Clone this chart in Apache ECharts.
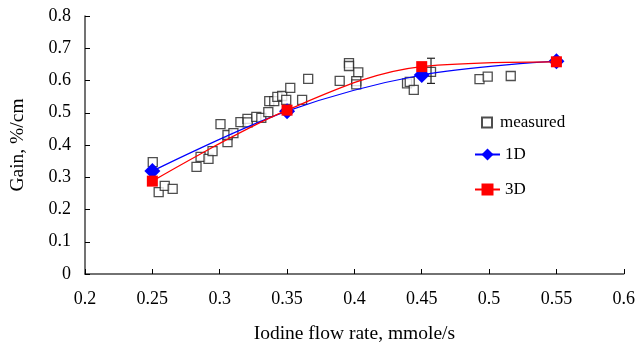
<!DOCTYPE html>
<html>
<head>
<meta charset="utf-8">
<script src="https://cdn.jsdelivr.net/npm/echarts@6/dist/echarts.min.js"></script>
<style>html,body{margin:0;padding:0;background:#fff;}#c{width:638px;height:349px;}</style>
</head>
<body>
<div id="c"></div>
<script>
var measuredX = [0.2503,0.2547,0.2592,0.2651,0.2828,0.2858,0.2917,0.2947,0.3006,0.3058,0.3058,0.3102,0.3154,0.3206,0.3208,0.3272,0.3309,0.3361,0.3368,0.3405,0.3428,0.3464,0.3494,0.3524,0.3612,0.3657,0.3891,0.3960,0.3960,0.4029,0.4014,0.4014,0.4391,0.4411,0.4441,0.4569,0.4929,0.4990,0.5161];
var measuredY = [0.347,0.254,0.273,0.264,0.332,0.363,0.357,0.381,0.465,0.409,0.431,0.437,0.471,0.481,0.470,0.487,0.484,0.502,0.536,0.536,0.549,0.552,0.540,0.577,0.540,0.605,0.599,0.654,0.645,0.625,0.598,0.588,0.591,0.596,0.571,0.627,0.604,0.612,0.614];
var modelX = [0.25,0.35,0.45,0.55];
var oneD = [0.319,0.505,0.617,0.660];
var threeD = [0.288,0.508,0.643,0.658];
var errX = [0.4569];
var errLow = [0.591];
var errHigh = [0.669];
var xTicks = [0.2,0.25,0.3,0.35,0.4,0.45,0.5,0.55,0.6];

var font = 'Liberation Serif';
function pairs(xs, ys){ return xs.map(function(x,i){ return [x, ys[i]]; }); }

var chart = echarts.init(document.getElementById('c'), null, {renderer:'canvas'});
chart.setOption({
  animation:false,
  backgroundColor:'#fff',
  textStyle:{fontFamily:font},
  grid:{left:85,right:12,top:16,bottom:75,containLabel:false},
  xAxis:{
    type:'value',min:0.2,max:0.6,interval:0.05,
    name:'Iodine flow rate, mmole/s',nameLocation:'middle',nameGap:50,
    nameTextStyle:{fontFamily:font,fontSize:19.5,color:'#000'},
    axisLine:{lineStyle:{color:'#444',width:1.5}},
    axisTick:{inside:true,length:5,lineStyle:{color:'#000'}},
    axisLabel:{fontFamily:font,fontSize:18,color:'#000',margin:16,
      formatter:function(v){ var t = xTicks.find(function(k){return Math.abs(k-v)<1e-9;}); return t===undefined? '' : String(t); }},
    splitLine:{show:false}
  },
  yAxis:{
    type:'value',min:0,max:0.8,interval:0.1,
    name:'Gain, %/cm',nameLocation:'middle',nameGap:57,nameRotate:90,
    nameTextStyle:{fontFamily:font,fontSize:19.5,color:'#000'},
    axisLine:{show:true,lineStyle:{color:'#444',width:1.5}},
    axisTick:{show:true,inside:true,length:5,lineStyle:{color:'#000'}},
    axisLabel:{fontFamily:font,fontSize:18,color:'#000',margin:14,
      formatter:function(v){ return String(Math.round(v*10)/10); }},
    splitLine:{show:false}
  },
  legend:[
    {orient:'vertical',left:476,top:109,itemWidth:10,itemHeight:10,
      textStyle:{fontFamily:font,fontSize:17,color:'#000',padding:[0,0,0,3]},
      data:['measured']},
    {orient:'vertical',left:469,top:141,itemWidth:25,itemHeight:15,itemGap:18,
      textStyle:{fontFamily:font,fontSize:17,color:'#000'},
      data:['1D','3D']}
  ],
  series:[
    {name:'measured',type:'scatter',symbol:'rect',symbolSize:9,
      itemStyle:{color:'#fff',borderColor:'#222',borderWidth:1.3},
      data:pairs(measuredX,measuredY),z:3},
    {name:'err',type:'custom',z:4,
      renderItem:function(params, api){
        var p1 = api.coord([api.value(0), api.value(1)]);
        var p2 = api.coord([api.value(0), api.value(2)]);
        var w = 4;
        var st = {stroke:'#222',lineWidth:1.2};
        return {type:'group',children:[
          {type:'line',shape:{x1:p1[0],y1:p1[1],x2:p2[0],y2:p2[1]},style:st},
          {type:'line',shape:{x1:p1[0]-w,y1:p1[1],x2:p1[0]+w,y2:p1[1]},style:st},
          {type:'line',shape:{x1:p2[0]-w,y1:p2[1],x2:p2[0]+w,y2:p2[1]},style:st}
        ]};
      },
      data:errX.map(function(x,i){return [x, errLow[i], errHigh[i]];})},
    {name:'1D',type:'line',smooth:0.35,symbol:'diamond',symbolSize:16,
      lineStyle:{color:'#0000ff',width:1.2},itemStyle:{color:'#0000ff'},
      data:pairs(modelX,oneD),z:5},
    {name:'3D',type:'line',smooth:0.35,symbol:'rect',symbolSize:11,
      lineStyle:{color:'#ff0000',width:1.2},itemStyle:{color:'#ff0000'},
      data:pairs(modelX,threeD),z:6}
  ]
});
</script>
</body>
</html>
